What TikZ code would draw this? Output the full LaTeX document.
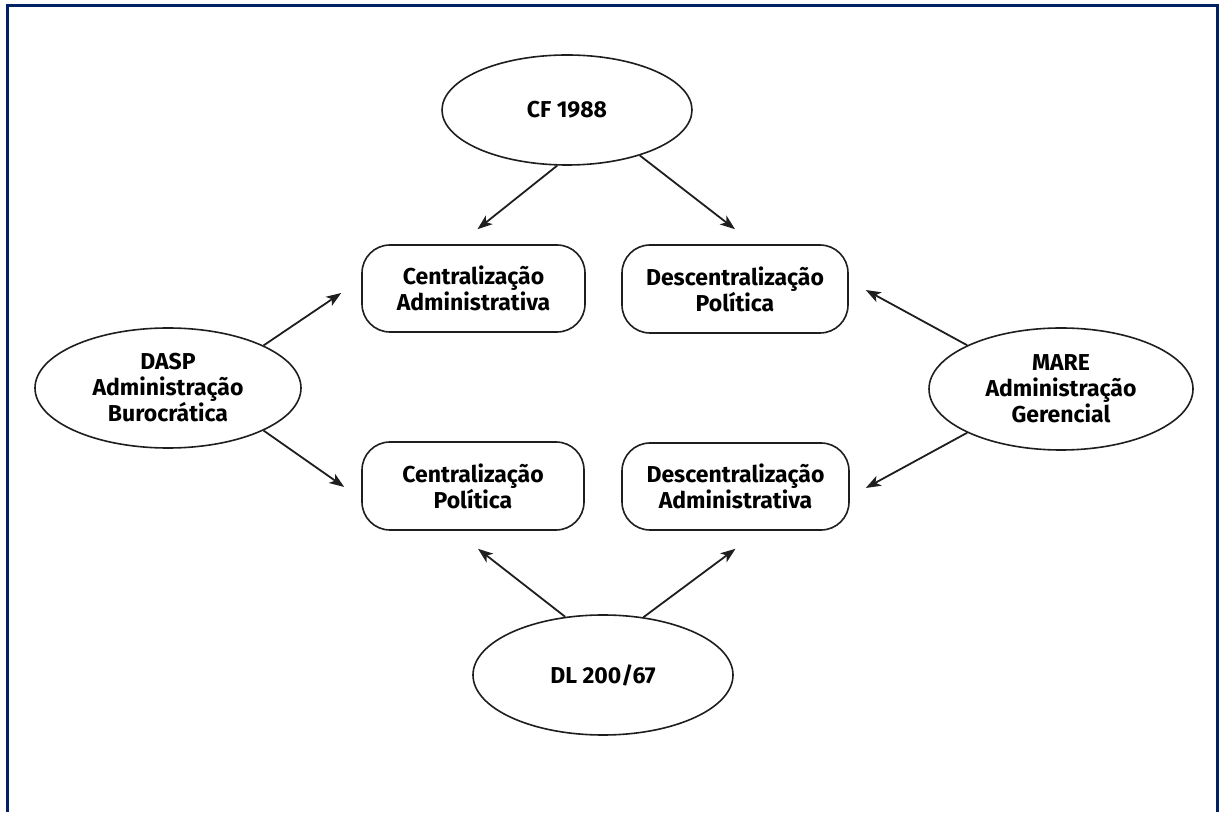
\documentclass[tikz,border=0pt]{standalone}
\usepackage{fontspec}
\setmainfont{Fira Sans}
\usetikzlibrary{shapes.geometric,calc,arrows.meta}
\definecolor{framenavy}{RGB}{0,33,99}
\definecolor{ink}{RGB}{30,30,30}
\begin{document}
\begin{tikzpicture}[x=1pt,y=1pt,
  lbl/.style={font=\fontsize{23}{26}\selectfont\bfseries, text=black, align=center},
  oval/.style={lbl, draw=ink, line width=1.6pt, ellipse, inner sep=0pt},
  roundbox/.style={lbl, draw=ink, line width=1.6pt, rectangle, rounded corners=28pt, inner sep=0pt},
  link/.style={draw=ink, line width=1.8pt, -{Stealth[length=15pt,width=11pt,inset=4pt]}}]
\useasboundingbox (0,0) rectangle (1221,812);
\fill[white] (0,0) rectangle (1221,812);
% frame
\draw[framenavy, line width=3pt] (7,0) -- (7,806) -- (1217,806) -- (1217,0);

% sources
\node[oval, minimum width=250pt, minimum height=110pt] (cf) at (567,702) {CF 1988};
\node[oval, minimum width=266pt, minimum height=120pt] (dasp) at (168,424) {DASP\\Administração\\Burocrática};
\node[oval, minimum width=264pt, minimum height=122pt] (mare) at (1061,423) {MARE\\Administração\\Gerencial};
\node[oval, minimum width=260pt, minimum height=120pt] (dl) at (603,137) {DL 200/67};

% outcomes
\node[roundbox, minimum width=223pt, minimum height=87pt] (ca) at (473.5,523.5) {Centralização\\Administrativa};
\node[roundbox, minimum width=226pt, minimum height=88pt] (dp) at (735,523) {Descentralização\\Política};
\node[roundbox, minimum width=222pt, minimum height=88pt] (cp) at (473,326) {Centralização\\Política};
\node[roundbox, minimum width=227pt, minimum height=87pt] (da) at (735.5,325.5) {Descentralização\\Administrativa};

% connectors
\draw[link] (cf.-100) -- ($(ca.north)+(4,15)$);
\draw[link] (cf.-32) -- ($(dp.north)+(0,15)$);
\draw[link] (dasp.24) -- ($(ca.west)+(-20,-4.5)$);
\draw[link] (dasp.-24) -- ($(cp.west)+(-17,-1)$);
\draw[link] (mare.155) -- ($(dp.east)+(17,-1)$);
\draw[link] (mare.-155) -- ($(da.east)+(16,-1.5)$);
\draw[link] (dl.123) -- ($(cp.south)+(5,-18)$);
\draw[link] (dl.55) -- ($(da.south)+(0,-18)$);
\end{tikzpicture}
\end{document}
